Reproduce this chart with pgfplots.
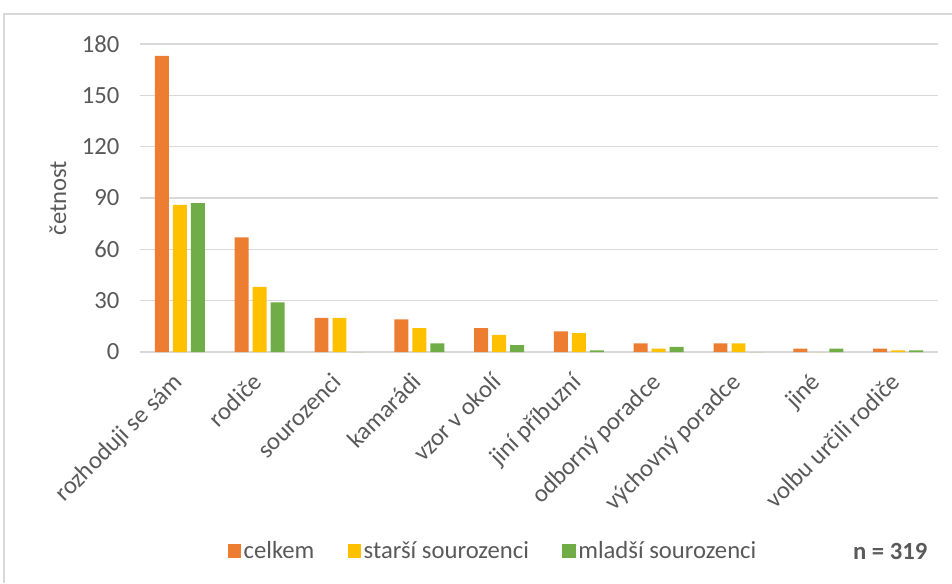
\documentclass[border=0pt]{standalone}
\usepackage{fontspec}
\setmainfont{Carlito}
\usepackage{pgfplots}
\pgfplotsset{compat=1.18}
\definecolor{cOrange}{HTML}{ED7D31}
\definecolor{cYellow}{HTML}{FFC000}
\definecolor{cGreen}{HTML}{70AD47}
\definecolor{txtgray}{HTML}{595959}
\definecolor{gridgray}{HTML}{D9D9D9}
\newcommand{\chfont}{\fontsize{18.5}{21}\selectfont}
\begin{document}
\begin{tikzpicture}
\useasboundingbox (-105pt,-173.25pt) rectangle (609pt,264pt);
% outer chart frame (left and top edges visible)
\draw[gridgray, line width=1pt] (-102pt,-173.25pt) -- (-102pt,253.5pt) -- (609pt,253.5pt);
\begin{axis}[
  at={(0pt,0pt)}, anchor=south west,
  scale only axis,
  width=598.5pt, height=231pt,
  ybar, bar width=0.175,
  xmin=-0.5, xmax=9.5,
  ymin=0, ymax=180,
  ytick={0,30,...,180},
  xtick={0,...,9},
  xticklabels={rozhoduji se sám, rodiče, sourozenci, kamarádi, vzor v okolí, jiní příbuzní, odborný poradce, výchovný poradce, jiné, volbu určili rodiče},
  axis line style={draw=none},
  major tick length=0pt,
  ymajorgrids,
  grid style={gridgray, line width=1.1pt},
  /pgf/number format/assume math mode=true,
  ticklabel style={font=\chfont, text=txtgray},
  yticklabel style={anchor=east, xshift=-12pt},
  xticklabel style={xshift=-6.5pt, yshift=-9.75pt, rotate=45, anchor=north east},
  clip=false,
  legend columns=3,
  legend style={draw=none, fill=none, font=\chfont, text=txtgray,
    at={(265pt,-149.25pt)}, anchor=center,
    /tikz/every even column/.append style={column sep=23pt}},
  legend image code/.code={\fill[#1] (0pt,-5pt) rectangle (10pt,5pt);},
  every axis plot/.append style={draw=none},
]
\addplot[fill=cOrange, bar shift=-0.2256] coordinates {
  (0,173) (1,67) (2,20) (3,19) (4,14) (5,12) (6,5) (7,5) (8,2) (9,2)};
\addlegendentry{celkem}
\addplot[fill=cYellow, bar shift=0] coordinates {
  (0,86) (1,38) (2,20) (3,14) (4,10) (5,11) (6,2) (7,5) (8,0) (9,1)};
\addlegendentry{starší sourozenci}
\addplot[fill=cGreen, bar shift=0.2256] coordinates {
  (0,87) (1,29) (2,0) (3,5) (4,4) (5,1) (6,3) (7,0) (8,2) (9,1)};
\addlegendentry{mladší sourozenci}
\end{axis}
\node[rotate=90, font=\chfont, text=txtgray] at (-61.5pt,115.5pt) {četnost};
\node[anchor=east, font=\chfont\bfseries, text=txtgray] at (594pt,-149.25pt) {n = 319};
\end{tikzpicture}
\end{document}
